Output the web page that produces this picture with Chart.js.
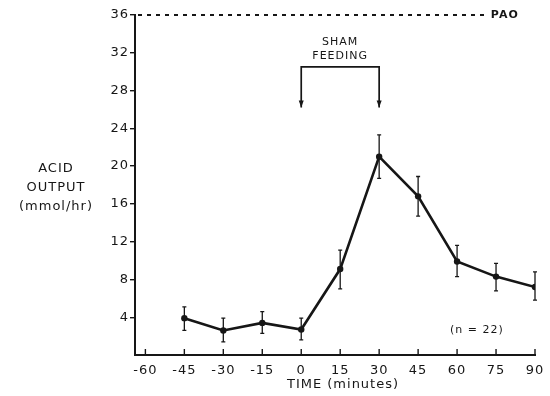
<!DOCTYPE html>
<html>
<head>
<meta charset="utf-8">
<script src="https://cdn.jsdelivr.net/npm/chart.js@4"></script>
<style>
  html, body { margin: 0; padding: 0; background: #fff; }
  #wrap { width: 550px; height: 396px; position: relative; }
</style>
</head>
<body>
<div id="wrap"><canvas id="acidChart"></canvas></div>
<script>
// Datos
const timeMinutes = [-45, -30, -15, 0, 15, 30, 45, 60, 75, 90];
const acidOutput = [3.9, 2.6, 3.4, 2.7, 9.1, 21.0, 16.8, 9.9, 8.3, 7.2];
const errUpper = [5.1, 3.9, 4.6, 3.9, 11.1, 23.3, 18.9, 11.6, 9.7, 8.8];
const errLower = [2.6, 1.4, 2.3, 1.6, 7.0, 18.7, 14.7, 8.3, 6.8, 5.8];
const xTickValues = [-60, -45, -30, -15, 0, 15, 30, 45, 60, 75, 90];
const yTickValues = [4, 8, 12, 16, 20, 24, 28, 32, 36];
const paoLevel = 36, paoEnd = 71.5, paoLabelAt = 73;
const shamStart = 0, shamEnd = 30, shamTop = 30.5, shamArrow = 26.2;

const ink = '#161616';
const fontFam = '"DejaVu Sans", sans-serif';

// Dibujos extra: PAO, barras de error, corchete, títulos
const extras = {
  id: 'extras',
  beforeDraw(chart) {
    chart.ctx.letterSpacing = '1px';
  },
  beforeDatasetsDraw(chart) {
    const { ctx, scales: { x, y }, chartArea } = chart;
    ctx.save();
    // línea PAO punteada
    ctx.strokeStyle = ink;
    ctx.fillStyle = ink;
    ctx.lineWidth = 1.8;
    ctx.setLineDash([4, 5]);
    ctx.beginPath();
    ctx.moveTo(chartArea.left + 3, y.getPixelForValue(paoLevel));
    ctx.lineTo(x.getPixelForValue(paoEnd), y.getPixelForValue(paoLevel));
    ctx.stroke();
    ctx.setLineDash([]);
    ctx.font = 'bold 11px ' + fontFam;
    ctx.textAlign = 'left';
    ctx.textBaseline = 'middle';
    ctx.fillText('PAO', x.getPixelForValue(paoLabelAt), y.getPixelForValue(paoLevel));

    // marcas del eje x (hacia arriba)
    ctx.lineWidth = 1.4;
    xTickValues.forEach(v => {
      const px = x.getPixelForValue(v);
      ctx.beginPath();
      ctx.moveTo(px, chartArea.bottom + 1);
      ctx.lineTo(px, chartArea.bottom - 6);
      ctx.stroke();
    });

    // barras de error
    ctx.lineWidth = 1.3;
    timeMinutes.forEach((t, i) => {
      const px = x.getPixelForValue(t);
      const top = y.getPixelForValue(errUpper[i]);
      const bot = y.getPixelForValue(errLower[i]);
      ctx.beginPath();
      ctx.moveTo(px, top); ctx.lineTo(px, bot);
      ctx.moveTo(px - 2, top); ctx.lineTo(px + 2, top);
      ctx.moveTo(px - 2, bot); ctx.lineTo(px + 2, bot);
      ctx.stroke();
    });

    // corchete "SHAM FEEDING"
    const x0 = x.getPixelForValue(shamStart), x1 = x.getPixelForValue(shamEnd);
    const yt = y.getPixelForValue(shamTop), ya = y.getPixelForValue(shamArrow);
    ctx.lineWidth = 1.7;
    ctx.beginPath();
    ctx.moveTo(x0, ya); ctx.lineTo(x0, yt); ctx.lineTo(x1, yt); ctx.lineTo(x1, ya);
    ctx.stroke();
    [x0, x1].forEach(px => {
      ctx.beginPath();
      ctx.moveTo(px - 2.5, ya - 7); ctx.lineTo(px, ya); ctx.lineTo(px + 2.5, ya - 7);
      ctx.closePath();
      ctx.fill();
    });
    ctx.font = '11px ' + fontFam;
    ctx.textAlign = 'center';
    ctx.textBaseline = 'middle';
    ctx.fillText('SHAM', (x0 + x1) / 2, 42);
    ctx.fillText('FEEDING', (x0 + x1) / 2, 56);

    // (n = 22)
    ctx.fillText('(n = 22)', x.getPixelForValue(67.6), y.getPixelForValue(2.6));

    // título eje y horizontal
    ctx.font = '13px ' + fontFam;
    ctx.fillText('ACID', 56, 169);
    ctx.fillText('OUTPUT', 56, 188);
    ctx.fillText('(mmol/hr)', 56, 207);

    // título eje x
    ctx.fillText('TIME (minutes)', 343, 385);
    ctx.restore();
  }
};

const ctx = document.getElementById('acidChart').getContext('2d');
new Chart(ctx, {
  type: 'line',
  data: {
    datasets: [{
      data: timeMinutes.map((t, i) => ({ x: t, y: acidOutput[i] })),
      borderColor: ink,
      backgroundColor: ink,
      borderWidth: 2.6,
      pointRadius: 3.2,
      pointBackgroundColor: ink,
      pointBorderWidth: 0,
      tension: 0
    }]
  },
  options: {
    responsive: true,
    maintainAspectRatio: false,
    animation: false,
    layout: { padding: { top: 15, right: 15, left: 0, bottom: 0 } },
    plugins: { legend: { display: false }, tooltip: { enabled: false } },
    scales: {
      x: {
        type: 'linear',
        min: -64,
        max: 90,
        afterBuildTicks: s => { s.ticks = xTickValues.map(v => ({ value: v })); },
        afterFit: s => { s.height = 41; },
        border: { display: true, color: ink, width: 2 },
        grid: { display: false },
        ticks: { color: ink, font: { family: fontFam, size: 13 }, padding: 0, maxRotation: 0 }
      },
      y: {
        min: 0,
        max: 36,
        afterBuildTicks: s => { s.ticks = yTickValues.map(v => ({ value: v })); },
        afterFit: s => { s.width = 135; },
        border: { display: true, color: ink, width: 2 },
        grid: { display: true, drawOnChartArea: false, tickLength: 5, color: ink, lineWidth: 1.4 },
        ticks: { color: ink, font: { family: fontFam, size: 13 }, padding: 1 }
      }
    }
  },
  plugins: [extras]
});
</script>
</body>
</html>
